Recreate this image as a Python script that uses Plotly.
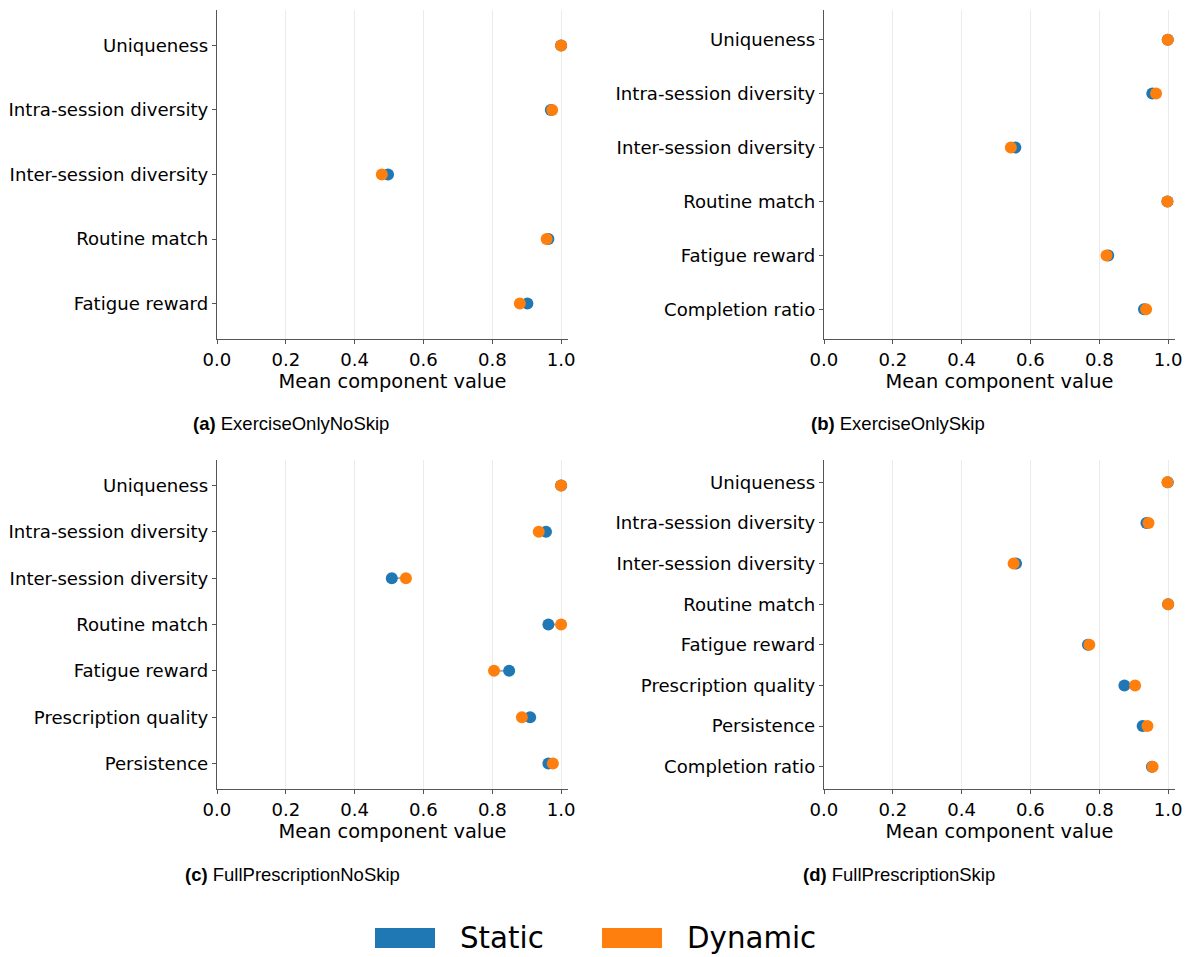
import plotly.graph_objects as go

# Mean reward component values per environment, Static vs Dynamic
a_cats = ["Uniqueness", "Intra-session diversity", "Inter-session diversity",
          "Routine match", "Fatigue reward"]
a_static = [1.000, 0.970, 0.497, 0.963, 0.902]
a_dynamic = [1.000, 0.974, 0.479, 0.958, 0.880]

b_cats = ["Uniqueness", "Intra-session diversity", "Inter-session diversity",
          "Routine match", "Fatigue reward", "Completion ratio"]
b_static = [0.999, 0.954, 0.556, 0.998, 0.826, 0.930]
b_dynamic = [0.999, 0.965, 0.543, 0.998, 0.821, 0.936]

c_cats = ["Uniqueness", "Intra-session diversity", "Inter-session diversity",
          "Routine match", "Fatigue reward", "Prescription quality", "Persistence"]
c_static = [1.000, 0.956, 0.508, 0.963, 0.849, 0.910, 0.963]
c_dynamic = [1.000, 0.935, 0.549, 1.000, 0.805, 0.886, 0.976]

d_cats = ["Uniqueness", "Intra-session diversity", "Inter-session diversity",
          "Routine match", "Fatigue reward", "Prescription quality", "Persistence",
          "Completion ratio"]
d_static = [0.999, 0.937, 0.558, 1.000, 0.767, 0.873, 0.926, 0.953]
d_dynamic = [0.998, 0.943, 0.551, 1.000, 0.771, 0.904, 0.940, 0.955]

panel_tags = ["(a)", "(b)", "(c)", "(d)"]
panel_names = ["ExerciseOnlyNoSkip", "ExerciseOnlySkip",
               "FullPrescriptionNoSkip", "FullPrescriptionSkip"]
series_names = ["Static", "Dynamic"]
x_ticks = [0.0, 0.2, 0.4, 0.6, 0.8, 1.0]
x_title = "Mean component value"

STATIC_C = "#1f77b4"
DYNAMIC_C = "#ff7f0e"
W, H = 1190, 957

panels = [
    (a_cats, a_static, a_dynamic),
    (b_cats, b_static, b_dynamic),
    (c_cats, c_static, c_dynamic),
    (d_cats, d_static, d_dynamic),
]

# axes boxes in pixels: (left, right, top, bottom)
boxes = [(217, 568, 10, 339), (824, 1175, 10, 339),
         (217, 568, 460, 789), (824, 1175, 460, 789)]
caption_pos = [(291, 423), (898, 423), (292, 874), (899, 874)]

TICK_FONT = dict(family="DejaVu Sans", size=18.1, color="black")
TITLE_FONT = dict(family="DejaVu Sans", size=19.4, color="black")

fig = go.Figure()
layout = dict(
    width=W, height=H, autosize=False,
    margin=dict(l=0, r=0, t=0, b=0, pad=0),
    paper_bgcolor="white", plot_bgcolor="white",
    showlegend=False,
    shapes=[], annotations=[],
)

for i, ((cats, st, dy), (l, r, t, b)) in enumerate(zip(panels, boxes)):
    n = i + 1
    xa = "x" if n == 1 else f"x{n}"
    ya = "y" if n == 1 else f"y{n}"
    xkey = "xaxis" if n == 1 else f"xaxis{n}"
    ykey = "yaxis" if n == 1 else f"yaxis{n}"

    # grey connectors between the two variants
    lx, ly = [], []
    for c, s, d in zip(cats, st, dy):
        lx += [s, d, None]
        ly += [c, c, None]
    fig.add_trace(go.Scatter(x=lx, y=ly, mode="lines", xaxis=xa, yaxis=ya,
                             line=dict(color="rgba(150,150,150,0.8)", width=2),
                             hoverinfo="skip"))
    fig.add_trace(go.Scatter(x=st, y=cats, mode="markers", name=series_names[0],
                             xaxis=xa, yaxis=ya,
                             marker=dict(color=STATIC_C, size=12, line=dict(width=0))))
    fig.add_trace(go.Scatter(x=dy, y=cats, mode="markers", name=series_names[1],
                             xaxis=xa, yaxis=ya,
                             marker=dict(color=DYNAMIC_C, size=12, line=dict(width=0))))

    layout[xkey] = dict(
        domain=[l / W, r / W], anchor=ya, range=[0, 1.02], automargin=False,
        tickmode="array", tickvals=x_ticks,
        ticktext=[f"{v:.1f}" for v in x_ticks],
        showgrid=True, gridcolor="#ebebeb", gridwidth=1,
        zeroline=False, showline=True, linecolor="#555555", linewidth=1.3,
        ticks="outside", ticklen=4, tickcolor="#555555",
        tickfont=TICK_FONT,
        title=dict(text=x_title, font=TITLE_FONT, standoff=3),
    )
    layout[ykey] = dict(
        domain=[1 - b / H, 1 - t / H], anchor=xa, type="category",
        automargin=False,
        categoryorder="array", categoryarray=cats,
        range=[len(cats) - 0.45, -0.55],
        showgrid=False, zeroline=False, showline=True,
        linecolor="#555555", linewidth=1.3,
        ticks="outside", ticklen=4, tickcolor="#555555",
        tickfont=TICK_FONT,
    )
    cx, cy = caption_pos[i]
    layout["annotations"].append(dict(
        xref="paper", yref="paper", x=cx / W, y=1 - cy / H,
        xanchor="center", yanchor="middle", showarrow=False,
        text=f"<b>{panel_tags[i]}</b> {panel_names[i]}",
        font=dict(family="Liberation Sans, Arial", size=18.5, color="black"),
    ))

# figure-level legend: colour patches with labels
legend_items = [(series_names[0], STATIC_C, 375), (series_names[1], DYNAMIC_C, 602)]
for name, color, px in legend_items:
    layout["shapes"].append(dict(
        type="rect", xref="paper", yref="paper",
        x0=px / W, x1=(px + 60) / W, y0=1 - 948 / H, y1=1 - 928 / H,
        fillcolor=color, line=dict(width=0),
    ))
    layout["annotations"].append(dict(
        xref="paper", yref="paper", x=(px + 83) / W, y=1 - 938 / H,
        xanchor="left", yanchor="middle", showarrow=False, text=name,
        font=dict(family="DejaVu Sans", size=29.3, color="black"),
    ))

fig.update_layout(**layout)
fig.write_html("out.html")
